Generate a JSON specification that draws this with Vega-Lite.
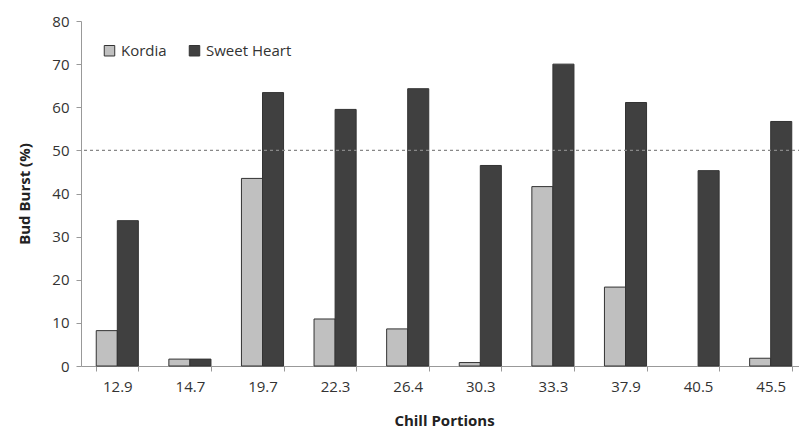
{
  "$schema": "https://vega.github.io/schema/vega-lite/v6.json",
  "autosize": {"type": "none"},
  "padding": {"left": 81, "top": 21, "right": 0, "bottom": 68},
  "width": 726,
  "height": 345,
  "background": "white",
  "config": {
    "view": {"stroke": null},
    "font": "Open Sans",
    "axis": {"labelFont": "Open Sans", "titleFont": "Open Sans", "labelColor": "#333", "titleColor": "#222"}
  },
  "data": {
    "values": [
      {"chill": "12.9", "cultivar": "Kordia", "burst": 8.2},
      {"chill": "12.9", "cultivar": "Sweet Heart", "burst": 33.7},
      {"chill": "14.7", "cultivar": "Kordia", "burst": 1.6},
      {"chill": "14.7", "cultivar": "Sweet Heart", "burst": 1.6},
      {"chill": "19.7", "cultivar": "Kordia", "burst": 43.5},
      {"chill": "19.7", "cultivar": "Sweet Heart", "burst": 63.4},
      {"chill": "22.3", "cultivar": "Kordia", "burst": 10.9},
      {"chill": "22.3", "cultivar": "Sweet Heart", "burst": 59.5},
      {"chill": "26.4", "cultivar": "Kordia", "burst": 8.6},
      {"chill": "26.4", "cultivar": "Sweet Heart", "burst": 64.3},
      {"chill": "30.3", "cultivar": "Kordia", "burst": 0.8},
      {"chill": "30.3", "cultivar": "Sweet Heart", "burst": 46.5},
      {"chill": "33.3", "cultivar": "Kordia", "burst": 41.6},
      {"chill": "33.3", "cultivar": "Sweet Heart", "burst": 70.0},
      {"chill": "37.9", "cultivar": "Kordia", "burst": 18.3},
      {"chill": "37.9", "cultivar": "Sweet Heart", "burst": 61.1},
      {"chill": "40.5", "cultivar": "Kordia", "burst": 0},
      {"chill": "40.5", "cultivar": "Sweet Heart", "burst": 45.3},
      {"chill": "45.5", "cultivar": "Kordia", "burst": 1.8},
      {"chill": "45.5", "cultivar": "Sweet Heart", "burst": 56.7}
    ]
  },
  "layer": [
    {
      "mark": {"type": "bar", "stroke": "#333"},
      "encoding": {
        "x": {
          "field": "chill", "type": "nominal", "sort": null,
          "scale": {"paddingInner": 0.42, "paddingOuter": 0.21},
          "axis": {
            "title": "Chill Portions", "titleFontSize": 15, "titleFontWeight": "bold", "titlePadding": 19,
            "labelAngle": 0, "labelFontSize": 15, "labelPadding": 8,
            "tickBand": "extent", "tickSize": 5, "tickColor": "#999", "domainColor": "#999", "grid": false
          }
        },
        "xOffset": {"field": "cultivar", "type": "nominal", "scale": {"paddingInner": 0, "paddingOuter": 0}},
        "y": {
          "field": "burst", "type": "quantitative",
          "scale": {"domain": [0, 80], "nice": false},
          "axis": {
            "title": "Bud Burst (%)", "titleFontSize": 15, "titleFontWeight": "bold", "titlePadding": 19,
            "values": [0, 10, 20, 30, 40, 50, 60, 70, 80],
            "labelFontSize": 15, "labelPadding": 7, "tickSize": 5, "tickColor": "#999", "domainColor": "#999", "grid": false
          }
        },
        "strokeWidth": {"condition": {"test": "datum.burst == 0", "value": 0}, "value": 1},
        "color": {
          "field": "cultivar", "type": "nominal",
          "scale": {"domain": ["Kordia", "Sweet Heart"], "range": ["#c0c0c0", "#404040"]},
          "legend": {
            "title": null, "orient": "none", "direction": "horizontal", "legendX": 21, "legendY": 22,
            "symbolType": "square", "symbolSize": 110, "symbolStrokeColor": "#333", "symbolStrokeWidth": 1,
            "labelFontSize": 15, "labelColor": "#333", "columnPadding": 20, "labelOffset": 4
          }
        }
      }
    },
    {
      "data": {"values": [{"y": 50}]},
      "mark": {"type": "rule", "color": "#888", "strokeDash": [3, 3], "strokeWidth": 1.3},
      "encoding": {"y": {"field": "y", "type": "quantitative"}}
    }
  ]
}
